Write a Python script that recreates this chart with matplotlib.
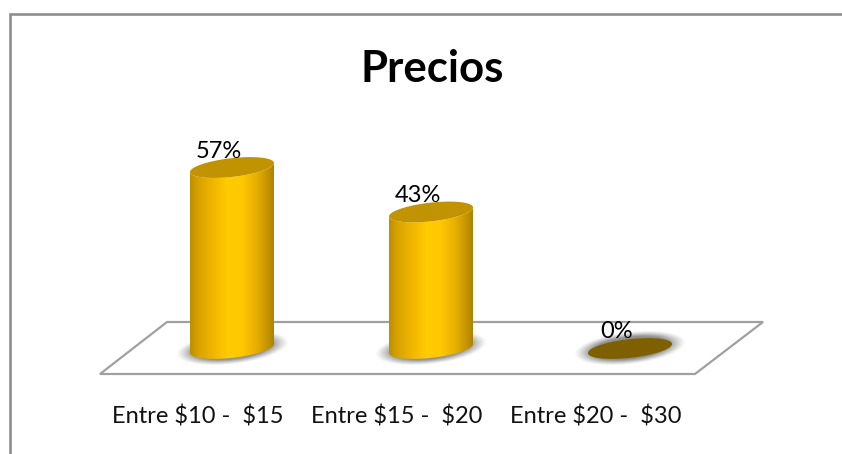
import numpy as np
import matplotlib
matplotlib.use("Agg")
import matplotlib.pyplot as plt
from matplotlib.patches import Polygon
from matplotlib.colors import LinearSegmentedColormap

categories = ["Entre $10 -  $15", "Entre $15 -  $20", "Entre $20 -  $30"]
values = [57, 43, 0]
title = "Precios"

W, H = 842, 454
X0, X_STEP = 232, 199      # pixel position of the first column and column spacing
Y0, Y_SCALE = 348.5, 3.175 # pixel position of 0 % and pixels per percent

plt.rcParams["font.family"] = ["Lato", "DejaVu Sans"]
fig = plt.figure(figsize=(W / 100, H / 100), dpi=100, facecolor="white")
ax = fig.add_axes([0, 0, 1, 1])
ax.set_xlim(-X0 / X_STEP, (W - X0) / X_STEP)
ax.set_ylim((Y0 - H) / Y_SCALE, Y0 / Y_SCALE)
ax.axis("off")


def dx(px):
    return px / X_STEP


def dy(px):
    return px / Y_SCALE


def px_x(x):
    return (x - X0) / X_STEP


def px_y(y):
    return (Y0 - y) / Y_SCALE


A, B, SLOPE = 42, 9.4, 0.107  # cylinder ellipse: half width, half height, tilt


def ellipse(xc, yc, t):
    x = A * np.cos(t)
    y = B * np.sin(t) + SLOPE * x
    return xc + dx(x), yc + dy(y)


# chart frame (left and top rules)
ax.add_patch(Polygon([[px_x(9.5), px_y(H + 5)], [px_x(9.5), px_y(14)], [px_x(W + 5), px_y(14)]],
                     closed=False, fill=False, ec="#8e8e8e", lw=1.9, zorder=1,
                     joinstyle="miter"))

# floor
floor = [(100, 374), (167, 322), (763, 322), (695, 374)]
ax.add_patch(Polygon([[px_x(a), px_y(b)] for a, b in floor], closed=True,
                     fc="white", ec="#a0a0a0", lw=1.6, zorder=2, joinstyle="miter"))

body_cmap = LinearSegmentedColormap.from_list(
    "gold", [(0, "#bd8f00"), (0.1, "#d8a300"), (0.32, "#f6bb00"), (0.45, "#ffcb00"),
             (0.62, "#ffc800"), (0.8, "#e6ae00"), (0.93, "#c29300"), (1, "#ad8300")])

for i, v in enumerate(values):
    # soft shadow under each column
    gx = np.linspace(-70, 70, 281)
    gy = np.linspace(-32, 32, 129)
    GX, GY = np.meshgrid(gx, gy)
    d = np.hypot(GX / (A + 14), (GY - SLOPE * GX) / (B + 7))
    shade = np.clip((1.0 - d) / 0.32, 0, 1)
    rgba = np.zeros(d.shape + (4,))
    rgba[..., :3] = 0.52
    rgba[..., 3] = 0.9 * shade ** 1.2
    ax.imshow(rgba, extent=[i + dx(-70), i + dx(70), dy(-32), dy(32)],
              origin="lower", aspect="auto", zorder=3, interpolation="bilinear")

    if v > 0:
        # column side: lower half of base ellipse up to lower half of top ellipse
        t = np.linspace(np.pi, 2 * np.pi, 80)
        bx, by = ellipse(i, 0, t)
        tx, ty = ellipse(i, v, t[::-1])
        side = Polygon(np.column_stack([np.r_[bx, tx], np.r_[by, ty]]), closed=True,
                       fc="none", ec="none", transform=ax.transData)
        ax.add_patch(side)
        grad = ax.imshow(np.linspace(0, 1, 256)[None, :], cmap=body_cmap,
                         extent=[i + dx(-A), i + dx(A), dy(-20), v + dy(20)],
                         aspect="auto", zorder=4, origin="lower")
        grad.set_clip_path(side)

    cap = "#c29300" if v > 0 else "#7f6000"
    ex, ey = ellipse(i, v, np.linspace(0, 2 * np.pi, 160))
    ax.fill(ex, ey, color=cap, lw=0, zorder=5)

    # value label sitting on the column top
    ax.text(i + dx(-13), v + dy(16.5), f"{v}%", ha="center", va="center",
            fontsize=17, color="black", zorder=6, parse_math=False)
    ax.text(i + dx(-34), px_y(417), categories[i], ha="center", va="center",
            fontsize=17, color="#111111", zorder=6, parse_math=False)

ax.text(px_x(432), px_y(69.5), title, ha="center", va="center", fontsize=31.5,
        fontweight="bold", color="black", zorder=6)

ax.set_xlim(-X0 / X_STEP, (W - X0) / X_STEP)
ax.set_ylim((Y0 - H) / Y_SCALE, Y0 / Y_SCALE)
fig.savefig("out.png", dpi=100, facecolor="white")
